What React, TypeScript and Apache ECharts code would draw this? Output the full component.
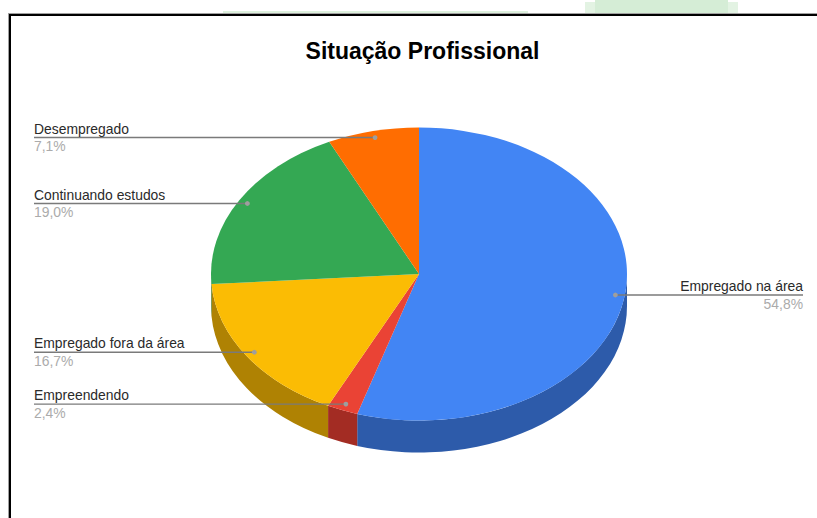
import React, { useEffect, useRef } from "react";
import * as echarts from "echarts";

const titleText = "Situação Profissional";
const categories = ["Empregado na área", "Empreendendo", "Empregado fora da área", "Continuando estudos", "Desempregado"];
const values = [54.8, 2.4, 16.7, 19.0, 7.1];
const percentLabels = ["54,8%", "2,4%", "16,7%", "19,0%", "7,1%"];
const topColors = ["#4285F4", "#EA4335", "#FBBC04", "#34A853", "#FF6D01"];
const sideColors = ["#2D5BAA", "#A32C23", "#AF8203", "#24753A", "#B24C00"];

const CX = 419, CY = 274, RX = 208, RY = 146.5, DEPTH = 32;
const LABEL_LEFT = 34, LABEL_RIGHT = 803;
const total = values.reduce((a, b) => a + b, 0);
const toRad = (d: number) => (d * Math.PI) / 180;
const px = (t: number) => CX + RX * Math.sin(toRad(t));
const py = (t: number) => CY - RY * Math.cos(toRad(t));

function topPath(a: number, b: number) {
  const large = b - a > 180 ? 1 : 0;
  return `M${CX} ${CY}L${px(a)} ${py(a)}A${RX} ${RY} 0 ${large} 1 ${px(b)} ${py(b)}Z`;
}
function sidePath(a: number, b: number) {
  const s = Math.max(a, 90), e = Math.min(b, 270);
  if (e <= s) return null;
  const large = e - s > 180 ? 1 : 0;
  return `M${px(s)} ${py(s)}A${RX} ${RY} 0 ${large} 1 ${px(e)} ${py(e)}L${px(e)} ${py(e) + DEPTH}A${RX} ${RY} 0 ${large} 0 ${px(s)} ${py(s) + DEPTH}Z`;
}

export default function App() {
  const ref = useRef<HTMLDivElement>(null);
  useEffect(() => {
    const chart = echarts.init(ref.current!, undefined, { renderer: "svg" });
    const rows = values.map((v, i) => {
      const start = (values.slice(0, i).reduce((a, b) => a + b, 0) / total) * 360;
      return [start, start + (v / total) * 360, i];
    });
    chart.setOption({
      animation: false,
      backgroundColor: "#fff",
      graphic: [
        { type: "rect", z: 0, shape: { x: 223, y: 11, width: 305, height: 2 }, style: { fill: "#DDF0DD" } },
        { type: "rect", z: 0, shape: { x: 585, y: 2, width: 153, height: 11 }, style: { fill: "#E3F3E3" } },
        { type: "rect", z: 0, shape: { x: 595, y: 0, width: 133, height: 13 }, style: { fill: "#D5EDD6" } },
        { type: "rect", z: 1, shape: { x: 8, y: 13, width: 809, height: 1 }, style: { fill: "#A0A0A0" } },
        { type: "rect", z: 1, shape: { x: 8, y: 13, width: 1, height: 505 }, style: { fill: "#A0A0A0" } },
        { type: "rect", z: 2, shape: { x: 9, y: 14, width: 808, height: 2 }, style: { fill: "#000" } },
        { type: "rect", z: 2, shape: { x: 9, y: 14, width: 2, height: 504 }, style: { fill: "#000" } },
        {
          type: "text", x: 422.5, y: 50.5, z: 5,
          style: { text: titleText, align: "center", verticalAlign: "middle", fill: "#000", font: "bold 23px 'Liberation Sans'" },
        },
      ],
      series: [
        {
          type: "custom",
          coordinateSystem: "none",
          data: rows,
          renderItem: (_p: any, api: any) => {
            const a = api.value(0), b = api.value(1), i = api.value(2);
            const children: any[] = [];
            const side = sidePath(a, b);
            if (side) children.push({ type: "path", z2: 1, shape: { pathData: side }, style: { fill: sideColors[i] } });
            children.push({ type: "path", z2: 2, shape: { pathData: topPath(a, b) }, style: { fill: topColors[i] } });
            return { type: "group", children };
          },
        },
        {
          type: "custom",
          coordinateSystem: "none",
          z: 5,
          data: rows,
          renderItem: (_p: any, api: any) => {
            const a = api.value(0), b = api.value(1), i = api.value(2);
            const mid = (a + b) / 2;
            const dx = CX + 0.955 * RX * Math.sin(toRad(mid));
            const dy = CY - 0.955 * RY * Math.cos(toRad(mid));
            const right = dx > CX;
            const edge = right ? LABEL_RIGHT : LABEL_LEFT;
            const align = right ? "right" : "left";
            return {
              type: "group",
              children: [
                { type: "line", shape: { x1: edge, y1: dy, x2: dx, y2: dy }, style: { stroke: "#7A7A7A", lineWidth: 1.4 } },
                { type: "circle", shape: { cx: dx, cy: dy, r: 2.4 }, style: { fill: "#9E9E9E" } },
                { type: "text", style: { x: edge, y: dy - 9, text: categories[i], align, verticalAlign: "middle", fill: "#2A2A2A", font: "13.9px 'Liberation Sans'" } },
                { type: "text", style: { x: edge, y: dy + 8.5, text: percentLabels[i], align, verticalAlign: "middle", fill: "#ABABAB", font: "13.9px 'Liberation Sans'" } },
              ],
            };
          },
        },
      ],
    });
    return () => chart.dispose();
  }, []);
  return <div ref={ref} style={{ position: "fixed", left: 0, top: 0, width: 817, height: 518 }} />;
}
